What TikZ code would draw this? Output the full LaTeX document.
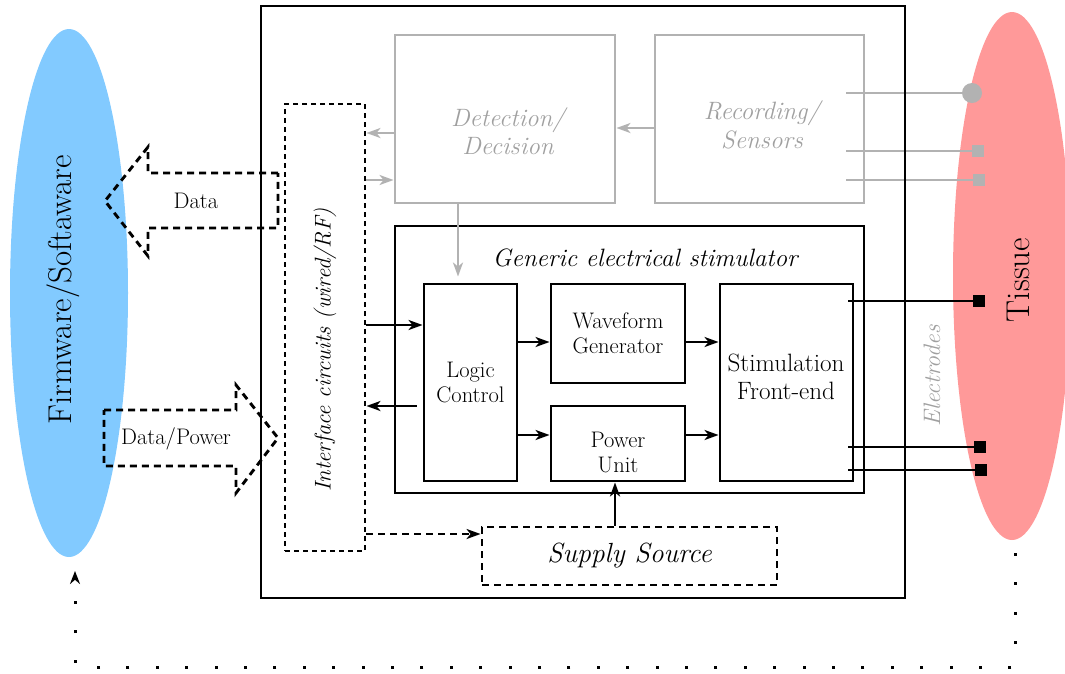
\documentclass[tikz,border=0pt]{standalone}
\usetikzlibrary{arrows.meta,shapes.geometric}
\definecolor{fwblue}{RGB}{130,202,255}
\definecolor{tissuered}{RGB}{255,153,153}
\definecolor{sensgray}{RGB}{178,178,178}
\definecolor{labelgray}{RGB}{160,160,160}
\newcommand\fsSmall{\fontsize{22.5}{25}\selectfont}
\newcommand\fsIfc{\fontsize{22.8}{27}\selectfont}
\newcommand\fsElec{\fontsize{23.8}{28}\selectfont}
\newcommand\fsNormal{\fontsize{25.1}{28.5}\selectfont}
\newcommand\fsLarge{\fontsize{27.7}{32}\selectfont}
\newcommand\fsHuge{\fontsize{33}{38}\selectfont}
\begin{document}
\begin{tikzpicture}[x=1pt,y=-1pt,
  blk/.style={draw, line width=2.9pt, rectangle, inner sep=0pt, align=center},
  graybox/.style={draw=sensgray, line width=2.9pt, rectangle, inner sep=0pt},
  txt/.style={inner sep=0pt, align=center},
  arr/.style={line width=2.9pt, -{Stealth[length=14pt,width=10pt,inset=4pt]}},
  garr/.style={draw=sensgray, line width=2.9pt, -{Stealth[length=14pt,width=10pt,inset=4pt]}},
  dsh/.style={dash pattern=on 7pt off 5pt},
  ifcdash/.style={dash pattern=on 5pt off 4pt},
  wire/.style={line width=2.9pt},
  gwire/.style={draw=sensgray, line width=2.9pt},
  pad/.style={fill, rectangle, minimum size=12pt, inner sep=0pt},
  gpad/.style={fill=sensgray, rectangle, minimum size=12pt, inner sep=0pt},
  fbline/.style={line width=3pt, dash pattern=on 3pt off 26.4pt, -{Stealth[length=13pt,width=10pt]}}
]
\useasboundingbox (0,0) rectangle (1065,673);

% firmware side and tissue side
\node[ellipse, fill=fwblue, minimum width=118pt, minimum height=528pt, inner sep=0pt] (fw) at (69,293) {};
\node[rotate=90, font=\fsHuge] (fwtext) at (63,290) {Firmware/Softaware};
\node[ellipse, fill=tissuered, minimum width=118pt, minimum height=528pt, inner sep=0pt] (tissue) at (1012,276) {};
\node[rotate=90, font=\fsHuge] (tissuetext) at (1018,280) {Tissue};

% wireless / wired link arrows
\draw[line width=2.9pt, dsh] (278,173) -- (148,173) -- (148,147) -- (105,201) -- (148,256) -- (148,228) -- (278,228) -- cycle;
\node[txt, font=\fsSmall] (datatext) at (196,201) {Data};
\draw[line width=2.9pt, dsh] (104,410) -- (236,410) -- (236,385) -- (278,438) -- (236,493) -- (236,466) -- (104,466) -- cycle;
\node[txt, font=\fsSmall] (dptext) at (176,439) {Data/Power};

% sensing path
\node[graybox, minimum width=220pt, minimum height=168pt] (det) at (505,119) {};
\node[txt, text=labelgray, font=\fsNormal\itshape] (dettext) at (508,131) {Detection/\\Decision};
\node[graybox, minimum width=209pt, minimum height=168pt] (rec) at (759.5,119) {};
\node[txt, text=labelgray, font=\fsNormal\itshape] (rectext) at (762,125) {Recording/\\Sensors};

% interface circuits
\node[draw, line width=2.9pt, ifcdash, minimum width=80pt, minimum height=447pt, inner sep=0pt] (ifc) at (325,327.5) {};
\node[rotate=90, font=\fsIfc\itshape] (ifctext) at (325,350) {Interface circuits (wired/RF)};

% stimulator
\node[blk, minimum width=469pt, minimum height=267pt] (gen) at (629.5,359.5) {};
\node[txt, font=\fsNormal\itshape] (gentext) at (645,258) {Generic electrical stimulator};
\node[blk, minimum width=93pt, minimum height=197pt, font=\fsSmall] (logic) at (470.5,382.5) {Logic\\Control};
\node[blk, minimum width=134pt, minimum height=99pt, font=\fsSmall] (wave) at (618,333.5) {Waveform\\Generator};
\node[blk, minimum width=134pt, minimum height=75pt] (power) at (618,443.5) {};
\node[txt, font=\fsSmall] (powtext) at (618,452) {Power\\Unit};
\node[blk, minimum width=133pt, minimum height=197pt] (stim) at (786.5,382.5) {};
\node[txt, font=\fsNormal] (stimtext) at (786,377) {Stimulation\\Front-end};
\node[draw, line width=2.9pt, dsh, minimum width=295pt, minimum height=58pt, font=\fsLarge\itshape] (supply) at (629.5,556) {Supply Source};

% electrode contacts
\node[circle, fill=sensgray, minimum size=20pt, inner sep=0pt] (r1) at (972,93) {};
\node[gpad] (r2) at (978,151) {};
\node[gpad] (r3) at (979,180) {};
\node[pad] (e1) at (979,301) {};
\node[pad] (e2) at (980,447) {};
\node[pad] (e3) at (981,470) {};
\node[rotate=90, text=labelgray, font=\fsElec\itshape] (eltext) at (932,376) {Electrodes};

\coordinate (recin) at ([xshift=-19pt]rec.east);
\coordinate (stimin) at ([xshift=-6pt]stim.east);
\draw[gwire] (recin |- r1) -- (r1);
\draw[gwire] (recin |- r2) -- (r2);
\draw[gwire] (recin |- r3) -- (r3);
\draw[wire] (stimin |- e1) -- (e1);
\draw[wire] (stimin |- e2) -- (e2);
\draw[wire] (stimin |- e3) -- (e3);

% signal flow
\draw[garr] (rec.west |- 0,128) -- (det.east |- 0,128);
\draw[garr] (det.west |- 0,133) -- (ifc.east |- 0,133);
\draw[garr] (ifc.east |- 0,180) -- (det.west |- 0,180);
\draw[garr, shorten >=6pt] (det.south -| 458,0) -- (logic.north -| 458,0);
\draw[arr] (ifc.east |- 0,325) -- (logic.west |- 0,325);
\draw[arr] ([xshift=-6pt]logic.west |- 0,406) -- (ifc.east |- 0,406);
\draw[arr] (logic.east |- 0,342) -- (wave.west |- 0,342);
\draw[arr] (logic.east |- 0,435) -- (power.west |- 0,435);
\draw[arr] (wave.east |- 0,342) -- (stim.west |- 0,342);
\draw[arr] (power.east |- 0,435) -- (stim.west |- 0,435);
\draw[arr] (supply.north -| 615,0) -- (power.south -| 615,0);
\draw[arr, dsh] (ifc.east |- 0,534) -- (supply.west |- 0,534);

% implant enclosure
\node[draw, line width=2.9pt, minimum width=644pt, minimum height=592pt, inner sep=0pt] (frame) at (583,302) {};

% closed-loop feedback
\coordinate (fbA) at (1015,553);
\coordinate (fbB) at (75,571);
\draw[fbline] (fbA) -- (fbA |- 0,667) -- (fbB |- 0,667) -- (fbB);
\end{tikzpicture}
\end{document}
